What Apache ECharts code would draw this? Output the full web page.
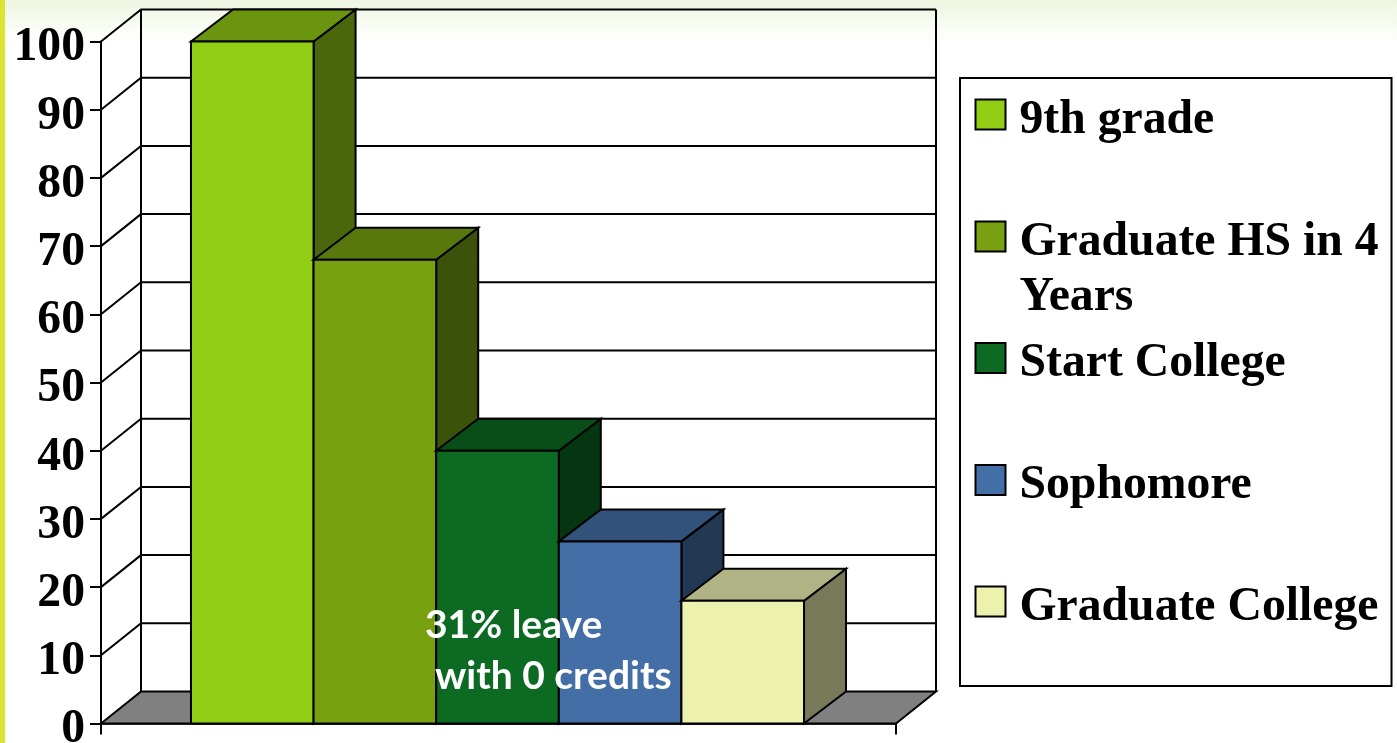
<!DOCTYPE html>
<html>
<head>
<meta charset="utf-8">
<style>html,body{margin:0;padding:0;background:#fff}#c{width:1397px;height:743px}</style>
<script src="https://cdn.jsdelivr.net/npm/echarts@6/dist/echarts.min.js"></script>
</head>
<body>
<div id="c"></div>
<script>
const categories = [''];
const seriesNames = ['9th grade', 'Graduate HS in 4 Years', 'Start College', 'Sophomore', 'Graduate College'];
const seriesValues = [100, 68, 40, 26.7, 18];
const frontColors = ['#92CE16', '#78A112', '#0C6A23', '#436FA6', '#ECF1AE'];
const topColors = ['#6B950F', '#58770D', '#094E19', '#32527B', '#B0B383'];
const sideColors = ['#4A670C', '#3C520A', '#063511', '#223853', '#777958'];
const tickValues = [0, 10, 20, 30, 40, 50, 60, 70, 80, 90, 100];
const legendTops = [96.5, 218.5, 340, 462, 583.5];
const noteLines = ['31% leave', 'with 0 credits'];

const WALL_DX = 40, BAR_DX = 42, BAR_SHIFT = -1, DY = -32, BAND_RATIO = 6.484;
const LINE = { stroke: '#000', lineWidth: 2 };

function renderWall(params, api) {
  const cs = params.coordSys;
  const v = api.value(0);
  const y = api.coord([0, v])[1];
  const l = cs.x, r = cs.x + cs.width;
  const children = [];
  if (v === 0) {
    children.push({ type: 'polygon', shape: { points: [[l, y], [l + WALL_DX, y + DY], [r + WALL_DX, y + DY], [r, y]] },
      style: { fill: '#808080', stroke: '#000', lineWidth: 2 } });
    const yTop = api.coord([0, 100])[1] + DY;
    children.push({ type: 'polyline', shape: { points: [[l + WALL_DX, y + DY], [l + WALL_DX, yTop]] }, style: Object.assign({ fill: null }, LINE) });
    children.push({ type: 'polyline', shape: { points: [[r + WALL_DX, y + DY], [r + WALL_DX, yTop]] }, style: Object.assign({ fill: null }, LINE) });
  } else {
    children.push({ type: 'polyline', shape: { points: [[l, y], [l + WALL_DX, y + DY], [r + WALL_DX, y + DY]] },
      style: Object.assign({ fill: null }, LINE) });
  }
  return { type: 'group', children };
}

function makeBarRenderer(idx) {
  return function (params, api) {
    const top = api.coord([0, api.value(1)]);
    const base = api.coord([0, 0]);
    const w = api.size([1, 0])[0] / BAND_RATIO;
    const x0 = top[0] + (idx - 2.5) * w + BAR_SHIFT, x1 = x0 + w;
    const yT = top[1], yB = base[1];
    return { type: 'group', children: [
      { type: 'polygon', shape: { points: [[x1, yT], [x1 + BAR_DX, yT + DY], [x1 + BAR_DX, yB + DY], [x1, yB]] },
        style: { fill: sideColors[idx], stroke: '#000', lineWidth: 2 } },
      { type: 'polygon', shape: { points: [[x0, yT], [x0 + BAR_DX, yT + DY], [x1 + BAR_DX, yT + DY], [x1, yT]] },
        style: { fill: topColors[idx], stroke: '#000', lineWidth: 2 } },
      { type: 'rect', shape: { x: x0, y: yT, width: w, height: yB - yT },
        style: { fill: frontColors[idx], stroke: '#000', lineWidth: 2 } }
    ] };
  };
}

const labelFont = { fontFamily: 'Liberation Serif', fontWeight: 'bold', fontSize: 47.7, color: '#000' };

const option = {
  animation: false,
  backgroundColor: '#fff',
  grid: { left: 101, top: 41.5, width: 795, height: 682, outerBoundsMode: 'none' },
  xAxis: {
    type: 'category', data: categories,
    axisLine: { lineStyle: { color: '#000', width: 2.5 } },
    axisTick: { show: true, length: 11, lineStyle: { color: '#000', width: 2 } },
    axisLabel: { show: false }, splitLine: { show: false }
  },
  yAxis: {
    type: 'value', min: 0, max: 100, interval: 10,
    axisLine: { show: true, lineStyle: { color: '#000', width: 2 } },
    axisTick: { show: true, length: 11, lineStyle: { color: '#000', width: 2 } },
    axisLabel: { margin: 16, formatter: '{a|{value}}', padding: [13, 0, 0, 0], rich: { a: labelFont } },
    splitLine: { show: false }
  },
  legend: seriesNames.map((n, i) => ({
    data: [n], orient: 'vertical', left: 974.5, top: legendTops[i], padding: 0,
    itemWidth: 30, itemHeight: 30, selectedMode: false, icon: 'rect',
    itemStyle: { borderColor: '#000', borderWidth: 2 },
    formatter: i === 1 ? '{a|Graduate HS in 4}\n{a|Years}' : '{a|{name}}',
    textStyle: Object.assign({}, labelFont, {
      padding: i === 1 ? [67, 0, 0, 9] : [12, 0, 0, 9],
      rich: { a: Object.assign({ lineHeight: 55 }, labelFont) }
    })
  })),
  graphic: [
    { type: 'rect', silent: true, z: -10, shape: { x: 0, y: 0, width: 1397, height: 42 },
      style: { fill: { type: 'linear', x: 0, y: 0, x2: 0, y2: 1, colorStops: [
        { offset: 0, color: '#EEF6E0' }, { offset: 1, color: '#FFFFFF' }] } } },
    { type: 'rect', silent: true, z: -9, shape: { x: 0, y: 0, width: 5, height: 743 }, style: { fill: '#D9E531' } },
    { type: 'rect', silent: true, z: -8, shape: { x: 960, y: 78, width: 431.5, height: 608 },
      style: { fill: '#fff', stroke: '#000', lineWidth: 2 } },
    { type: 'text', silent: true, z: 100, style: { x: 425, y: 625, text: noteLines[0], fill: '#fff',
      fontFamily: 'Lato', fontWeight: 'bold', fontSize: 39, verticalAlign: 'middle' } },
    { type: 'text', silent: true, z: 100, style: { x: 435, y: 676, text: noteLines[1], fill: '#fff',
      fontFamily: 'Lato', fontWeight: 'bold', fontSize: 39, verticalAlign: 'middle' } }
  ],
  series: [
    { type: 'custom', name: 'walls', coordinateSystem: 'cartesian2d', z: 1, silent: true,
      encode: { y: 0 }, renderItem: renderWall, data: tickValues.map(v => [v]) }
  ].concat(seriesNames.map((n, i) => ({
    type: 'custom', name: n, coordinateSystem: 'cartesian2d', z: 2 + i, silent: true,
    itemStyle: { color: frontColors[i] },
    encode: { x: 0, y: 1 },
    renderItem: makeBarRenderer(i),
    data: [[0, seriesValues[i]]]
  })))
};
echarts.init(document.getElementById('c'), null, { renderer: 'canvas' }).setOption(option);
</script>
</body>
</html>
